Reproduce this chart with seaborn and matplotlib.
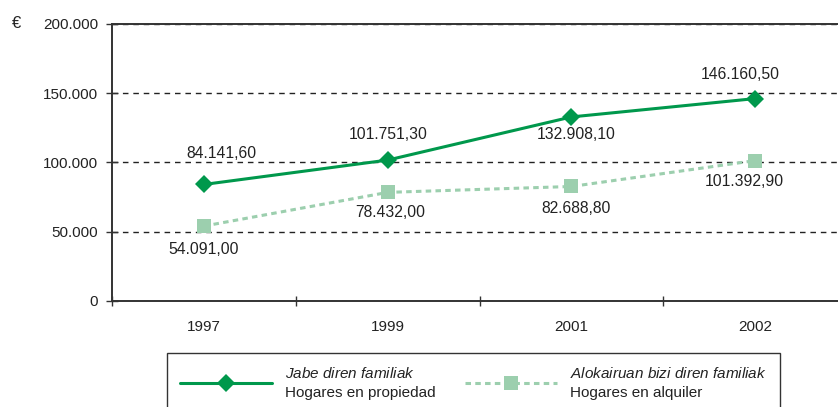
import numpy as np
import pandas as pd
import matplotlib
matplotlib.use("Agg")
import matplotlib.pyplot as plt
import seaborn as sns

years = ["1997", "1999", "2001", "2002"]
owners = [84141.60, 101751.30, 132908.10, 146160.50]
renters = [54091.00, 78432.00, 82688.80, 101392.90]
yticks = [0, 50000, 100000, 150000, 200000]

owner_label = r"$\it{Jabe\ diren\ familiak}$" + "\nHogares en propiedad"
renter_label = r"$\it{Alokairuan\ bizi\ diren\ familiak}$" + "\nHogares en alquiler"

# label offsets in pixels (dx, dy) for each point
owner_offsets = [(18, 31), (0, 26), (5, -18), (-15, 24)]
renter_offsets = [(0, -23), (3, -20), (5, -22), (-11, -21)]

dark_green = "#00984c"
light_green = "#9ccfae"
text_col = "#222222"


def es_format(v, decimals=2):
    s = f"{v:,.{decimals}f}"
    return s.replace(",", "X").replace(".", ",").replace("X", ".")


sns.set_theme(style="white")
plt.rcParams["font.family"] = ["Liberation Sans", "DejaVu Sans"]
plt.rcParams["mathtext.fontset"] = "custom"
plt.rcParams["mathtext.it"] = "Liberation Sans:italic"
plt.rcParams["mathtext.rm"] = "Liberation Sans"

df = pd.DataFrame({"pos": np.arange(len(years)), "owners": owners, "renters": renters})

fig = plt.figure(figsize=(8.38, 4.07), dpi=100)
ax = fig.add_axes([112 / 838, 106 / 407, 726 / 838, 277 / 407])

sns.lineplot(data=df, x="pos", y="owners", ax=ax, color=dark_green, lw=2.2,
             marker="D", markersize=9, markeredgewidth=0, label=owner_label, zorder=4)
sns.lineplot(data=df, x="pos", y="renters", ax=ax, color=light_green, lw=2.2,
             marker="s", markersize=10, markeredgewidth=0, dashes=(1.8, 1.4),
             label=renter_label, zorder=3)

for i, (v, off) in enumerate(zip(owners, owner_offsets)):
    ax.annotate(es_format(v), (i, v), xytext=off, textcoords="offset pixels",
                ha="center", va="center", fontsize=11.3, color=text_col)
for i, (v, off) in enumerate(zip(renters, renter_offsets)):
    ax.annotate(es_format(v), (i, v), xytext=off, textcoords="offset pixels",
                ha="center", va="center", fontsize=11.3, color=text_col)

ax.set_xlim(-0.5, 3.45)
ax.set_ylim(0, 200000)
ax.set_xticks(np.arange(len(years)))
ax.set_xticklabels(years)
ax.set_xticks([-0.5, 0.5, 1.5, 2.5], minor=True)
ax.set_yticks(yticks)
ax.set_yticklabels([es_format(t, 0) for t in yticks])
ax.set_xlabel("")
ax.set_ylabel("")

ax.tick_params(axis="x", which="major", length=0, pad=14, labelsize=11, labelcolor=text_col)
ax.tick_params(axis="x", which="minor", direction="inout", length=7.5, width=1, color="#333333", bottom=True)
ax.tick_params(axis="y", direction="inout", length=8, width=1, color="#333333", left=True,
               pad=6, labelsize=11, labelcolor=text_col)

ax.yaxis.grid(True, linestyle=(0, (4, 3.5)), color="#222222", lw=1)
ax.xaxis.grid(False)
for side in ["left", "bottom", "top"]:
    ax.spines[side].set_color("#333333")
    ax.spines[side].set_linewidth(1.4)
ax.spines["right"].set_visible(False)

fig.text(17 / 838, 1 - 23 / 407, "€", fontsize=12, color=text_col, ha="center", va="center")

leg = ax.legend(loc="upper left", bbox_to_anchor=(167 / 838, 1 - 353 / 407),
                bbox_transform=fig.transFigure, ncol=2, frameon=True, fancybox=False,
                framealpha=1, edgecolor="#333333", fontsize=11, handlelength=6.0,
                handletextpad=0.9, columnspacing=1.9, borderpad=0.85, borderaxespad=0,
                numpoints=1)
leg.get_frame().set_linewidth(1)
for t in leg.get_texts():
    t.set_color(text_col)
    t.set_linespacing(1.5)

fig.savefig("out.png", dpi=100)
